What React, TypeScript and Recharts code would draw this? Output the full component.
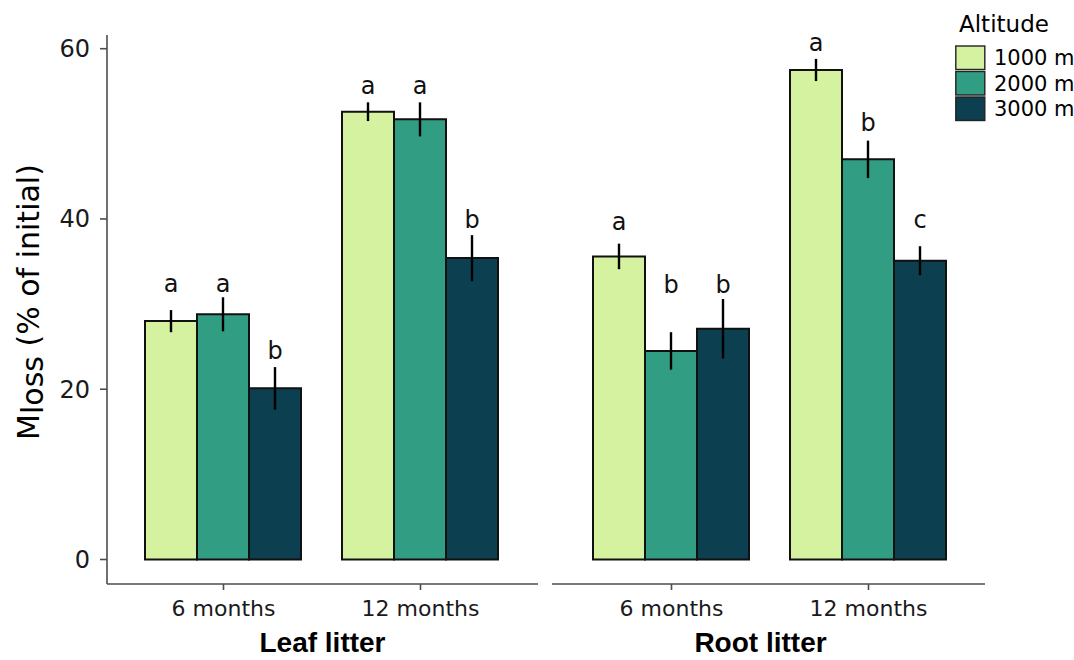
import { BarChart, Bar, XAxis, YAxis, ErrorBar, LabelList } from "recharts";

const categories = ["6 months", "12 months"];
const altitudes = ["1000 m", "2000 m", "3000 m"];
const colors = ["#d4f2a0", "#319e83", "#0c3f4f"];

// per altitude: [6 months, 12 months]
const leafMeans = [
  [28.0, 52.6],
  [28.8, 51.7],
  [20.1, 35.4],
];
const leafSe = [
  [1.3, 1.1],
  [2.0, 2.0],
  [2.5, 2.7],
];
const leafLetters = [
  ["a", "a"],
  ["a", "a"],
  ["b", "b"],
];
const leafLetterY = [
  [31.4, 54.7],
  [31.4, 54.7],
  [23.5, 38.9],
];

const rootMeans = [
  [35.6, 57.5],
  [24.5, 47.0],
  [27.1, 35.1],
];
const rootSe = [
  [1.5, 1.3],
  [2.2, 2.2],
  [3.5, 1.7],
];
const rootLetters = [
  ["a", "a"],
  ["b", "b"],
  ["b", "c"],
];
const rootLetterY = [
  [38.7, 59.7],
  [31.3, 50.3],
  [31.3, 38.9],
];

const yTicks = [0, 20, 40, 60];
const yDomain = [-2.88, 61.61];

const FONT = "'DejaVu Sans', Verdana, sans-serif";
const AXIS = "#4d4d4d";

function buildRows(means: number[][], se: number[][]) {
  return categories.map((cat, i) => {
    const row: Record<string, any> = { cat };
    altitudes.forEach((_, a) => {
      row["m" + a] = means[a][i];
      row["e" + a] = se[a][i];
    });
    return row;
  });
}

const leafData = buildRows(leafMeans, leafSe);
const rootData = buildRows(rootMeans, rootSe);

function letterLabel(letters: string[], ys: number[], means: number[]) {
  return (props: any) => {
    const vb = props.viewBox ?? props;
    const { x, y, width, height } = vb;
    const i = props.index;
    if (i == null || x == null) return null;
    const pxPerUnit = height / means[i];
    const base = y + height;
    return (
      <text
        x={x + width / 2}
        y={base - ys[i] * pxPerUnit}
        textAnchor="middle"
        fontFamily={FONT}
        fontSize={24}
        fill="#111"
      >
        {letters[i]}
      </text>
    );
  };
}

function facetLabel(text: string, dx: number) {
  return (props: any) => {
    const vb = props.viewBox;
    return (
      <text
        x={vb.x + vb.width / 2 + dx}
        y={vb.y + vb.height - 8}
        textAnchor="middle"
        fontFamily="'Liberation Sans', Arial, sans-serif"
        fontWeight="bold"
        fontSize={28}
        fill="#000"
      >
        {text}
      </text>
    );
  };
}

function renderBars(
  means: number[][],
  letters: string[][],
  letterY: number[][]
) {
  return altitudes.map((alt, a) => (
    <Bar
      key={alt}
      dataKey={"m" + a}
      name={alt}
      fill={colors[a]}
      stroke="#111"
      strokeWidth={2}
      isAnimationActive={false}
    >
      <ErrorBar dataKey={"e" + a} width={0} stroke="#000" strokeWidth={2.4} direction="y" />
      <LabelList
        dataKey={"m" + a}
        content={letterLabel(letters[a], letterY[a], means[a])}
      />
    </Bar>
  ));
}

const xTickStyle = { fontFamily: FONT, fontSize: 22, fill: "#1a1a1a" };
const yTickStyle = { fontFamily: FONT, fontSize: 24, fill: "#1a1a1a" };

function YLabel() {
  return (
    <text
      transform="translate(38.5, 302) rotate(-90)"
      textAnchor="middle"
      fontFamily={FONT}
      fontSize={30}
      fill="#000"
    >
      <tspan>M</tspan>
      <tspan dy={4}>loss</tspan>
      <tspan dy={-4}> (% of initial)</tspan>
    </text>
  );
}

function AltitudeLegend() {
  return (
    <svg
      width={119}
      height={130}
      style={{ position: "absolute", left: 955, top: 0, overflow: "visible" }}
    >
      <text x={4} y={31.5} fontFamily={FONT} fontSize={23} fill="#000">
        Altitude
      </text>
      {altitudes.map((alt, a) => (
        <g key={alt}>
          <rect
            x={0.8}
            y={46 + a * 25.5}
            width={29}
            height={23.5}
            fill={colors[a]}
            stroke="#222"
            strokeWidth={1.4}
          />
          <text
            x={39}
            y={46 + a * 25.5 + 19}
            fontFamily={FONT}
            fontSize={21}
            fill="#000"
          >
            {alt}
          </text>
        </g>
      ))}
    </svg>
  );
}

export default function App() {
  return (
    <div
      style={{
        position: "absolute",
        left: 0,
        top: 0,
        width: 1074,
        height: 660,
        background: "#fff",
        overflow: "hidden",
      }}
    >
      <div style={{ position: "absolute", left: 0, top: 0 }}>
        <BarChart
          width={545}
          height={660}
          data={leafData}
          margin={{ top: 35, right: 7, bottom: 0, left: 0 }}
          barCategoryGap={20}
          barGap={0}
        >
          <YAxis
            type="number"
            domain={yDomain}
            ticks={yTicks}
            allowDataOverflow
            width={107}
            tickSize={7}
            tickMargin={10}
            tick={yTickStyle}
            stroke={AXIS}
            strokeWidth={1.6}
            label={<YLabel />}
          />
          <XAxis
            dataKey="cat"
            height={76}
            padding={{ left: 18, right: 19 }}
            tickSize={6}
            tickMargin={10}
            tick={xTickStyle}
            stroke={AXIS}
            strokeWidth={1.6}
            label={{ content: facetLabel("Leaf litter", 0) }}
          />
          {renderBars(leafMeans, leafLetters, leafLetterY)}
        </BarChart>
      </div>
      <div style={{ position: "absolute", left: 552, top: 0 }}>
        <BarChart
          width={522}
          height={660}
          data={rootData}
          margin={{ top: 35, right: 89, bottom: 0, left: 0 }}
          barCategoryGap={20}
          barGap={0}
        >
          <YAxis type="number" domain={yDomain} ticks={yTicks} allowDataOverflow hide />
          <XAxis
            dataKey="cat"
            height={76}
            padding={{ left: 21, right: 18 }}
            tickSize={6}
            tickMargin={10}
            tick={xTickStyle}
            stroke={AXIS}
            strokeWidth={1.6}
            label={{ content: facetLabel("Root litter", -8) }}
          />
          {renderBars(rootMeans, rootLetters, rootLetterY)}
        </BarChart>
      </div>
      <AltitudeLegend />
    </div>
  );
}
